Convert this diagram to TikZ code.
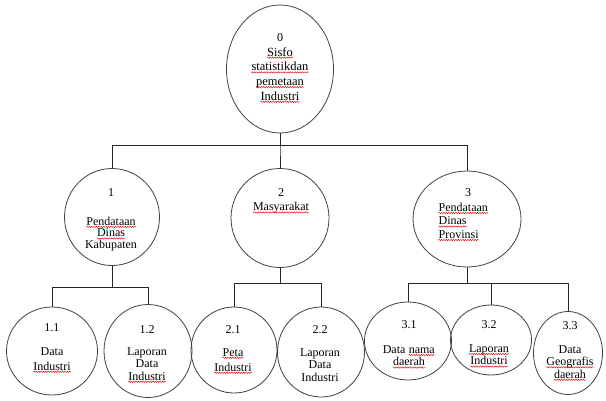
\documentclass[tikz,border=0pt]{standalone}
\usepackage{fontspec}
\setmainfont{Liberation Serif}
\usepackage{tikz}
\usetikzlibrary{shapes.geometric,decorations.pathmorphing}
% red spell-check wave under a word
\newcommand\sq[1]{\tikz[baseline=(w.base)]{\node[inner sep=0pt] (w) {#1};
  \draw[red!85!black,line width=.4pt,decorate,decoration={snake,amplitude=.7pt,segment length=2.4pt}]
    ([yshift=-1.6pt]w.base west) -- ([yshift=-1.6pt]w.base east);}}

\begin{document}
\begin{tikzpicture}[x=1pt,y=-1pt,
  proc/.style={draw=black!75,line width=.8pt,ellipse,inner sep=0pt},
  num/.style={font=\fontsize{12}{14}\selectfont,inner sep=0pt},
  lbl/.style={font=\fontsize{12}{12.5}\selectfont,align=center,inner sep=0pt},
  ln/.style={draw=black!85,line width=.8pt}]

\useasboundingbox (0,0) rectangle (606,400);

% processes
\node[proc,minimum width=107pt,minimum height=128pt] (r) at (280,69) {};
\node[proc,minimum width=95pt,minimum height=97pt]   (p1) at (112,217) {};
\node[proc,minimum width=98pt,minimum height=99pt]   (p2) at (280,218) {};
\node[proc,minimum width=108pt,minimum height=96pt]  (p3) at (467,219) {};
\node[proc,minimum width=91pt,minimum height=88pt]   (p11) at (52,351) {};
\node[proc,minimum width=88pt,minimum height=93pt]   (p12) at (148,351) {};
\node[proc,minimum width=86pt,minimum height=86pt]   (p21) at (234,350) {};
\node[proc,minimum width=87pt,minimum height=90pt]   (p22) at (321,352) {};
\node[proc,minimum width=87pt,minimum height=78pt]   (p31) at (408,341) {};
\node[proc,minimum width=81pt,minimum height=70pt]   (p32) at (491,340) {};
\node[proc,minimum width=69pt,minimum height=83pt]   (p33) at (568,353) {};

% texts
\node[num] (n0) at (280,38) {0};
\node[lbl,font=\fontsize{12.5}{14.7}\selectfont] (l0) at (280,75)
  {\sq{Sisfo}\\\sq{statistikdan}\\\sq{pemetaan}\\\sq{Industri}};
\node[num] (n1) at (111,193) {1};
\node[lbl,font=\fontsize{12}{11.6}\selectfont] (l1) at (111,234) {\sq{Pendataan}\\\sq{Dinas}\\Kabupaten};
\node[num] (n2) at (281,193) {2};
\node[lbl] (l2) at (281,208) {\sq{Masyarakat}};
\node[num] (n3) at (468,193) {3};
\node[lbl,align=left,anchor=west,font=\fontsize{12}{13.5}\selectfont] (l3) at (438,222)
  {\sq{Pendataan}\\\sq{Dinas}\\\sq{Provinsi}};
\node[num] (n11) at (52,328) {1.1};
\node[lbl,font=\fontsize{12}{15}\selectfont] (l11) at (52,360) {Data\\\sq{Industri}};
\node[num] (n12) at (147,330) {1.2};
\node[lbl] (l12) at (147,365) {Laporan\\Data\\\sq{Industri}};
\node[num] (n21) at (233,330) {2.1};
\node[lbl,font=\fontsize{12}{15}\selectfont] (l21) at (233,361) {\sq{Peta}\\\sq{Industri}};
\node[num] (n22) at (320,330) {2.2};
\node[lbl] (l22) at (320,365) {Laporan\\Data\\Industri};
\node[num] (n31) at (409,325) {3.1};
\node[lbl] (l31) at (409,357) {Data \sq{nama}\\\sq{daerah}};
\node[num] (n32) at (489,325) {3.2};
\node[lbl] (l32) at (489,356) {\sq{Laporan}\\\sq{Industri}};
\node[num] (n33) at (570,326) {3.3};
\node[lbl] (l33) at (570,363) {Data\\\sq{Geografis}\\\sq{daerah}};

% tree
\coordinate (b0) at (280,145);
\coordinate (b1) at (112,287);
\coordinate (b2) at (280,283);
\coordinate (b3) at (467,283);
\foreach \n in {p1,p2,p3} \draw[ln] (r.south) |- (\n.north |- b0) -- (\n.north);
\foreach \n in {p11,p12} \draw[ln] (p1.south) |- (\n.north |- b1) -- (\n.north);
\foreach \n in {p21,p22} \draw[ln] (p2.south) |- (\n.north |- b2) -- (\n.north);
\foreach \n in {p31,p32,p33} \draw[ln] (p3.south) |- (\n.north |- b3) -- (\n.north);

\end{tikzpicture}
\end{document}
